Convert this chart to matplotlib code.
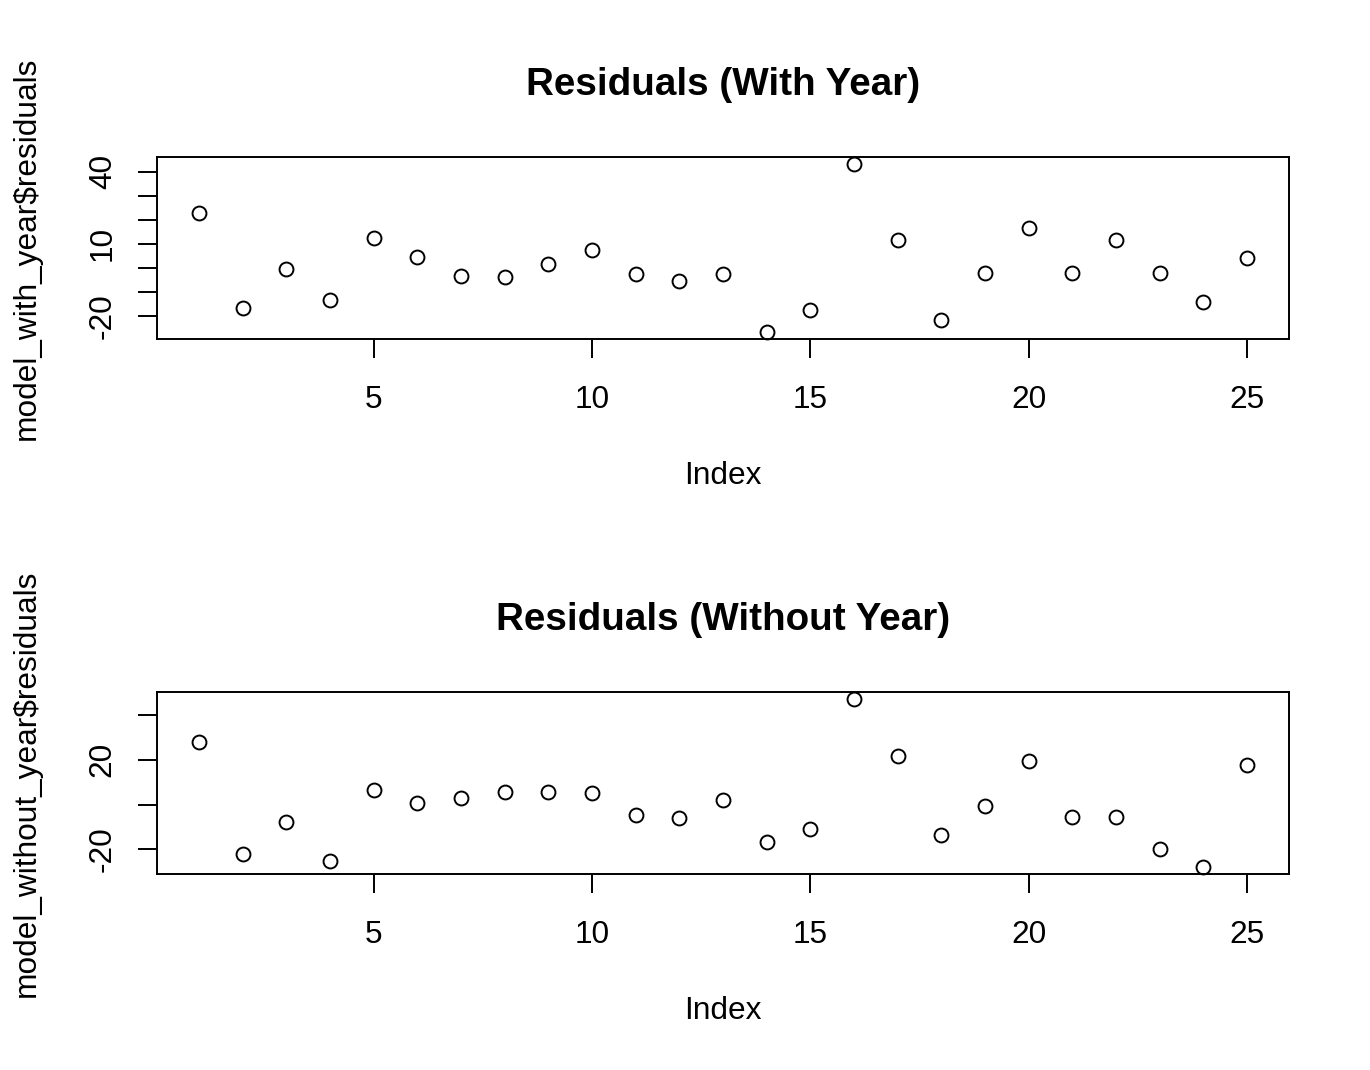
import numpy as np
import matplotlib
matplotlib.use("Agg")
import matplotlib.pyplot as plt

plt.rcParams['font.family'] = ['Liberation Sans', 'DejaVu Sans']

index = list(range(1, 26))
with_year = [23.0, -16.5, -0.5, -13.1, 12.6, 4.6, -3.4, -3.9, 1.8, 7.6, -2.3, -5.2, -2.3,
             -26.6, -17.3, 43.1, 11.5, -21.7, -2.1, 16.6, -2.1, 11.5, -2.1, -14.1, 4.3]
without_year = [28.0, -21.8, -7.9, -25.2, 6.5, 0.7, 2.8, 5.7, 5.7, 5.4, -4.4, -5.9, 2.0,
                -16.6, -10.9, 47.1, 21.8, -13.6, -0.5, 19.4, -5.4, -5.4, -19.6, -27.8, 17.6]

x_ticks = [5, 10, 15, 20, 25]
top_yticks = [-20, -10, 0, 10, 20, 30, 40]
top_ylabels = ['-20', '', '', '10', '', '', '40']
bot_yticks = [-20, 0, 20, 40]
bot_ylabels = ['-20', '', '20', '']

W, H = 1370, 1070
fig = plt.figure(figsize=(W / 100, H / 100), dpi=100)


def r_lim(vals):
    lo, hi = min(vals), max(vals)
    d = (hi - lo) * 0.04
    return lo - d, hi + d


def panel(rect, y, title, ylab, yt, ytl):
    ax = fig.add_axes(rect)
    ax.plot(index, y, linestyle='none', marker='o', markersize=10,
            markerfacecolor='none', markeredgecolor='black', markeredgewidth=1.4,
            clip_on=False)
    ax.set_xlim(r_lim(index))
    ax.set_ylim(r_lim(y))
    ax.set_xticks(x_ticks)
    ax.set_yticks(yt)
    ax.set_yticklabels(ytl, rotation=90, va='center')
    for s in ax.spines.values():
        s.set_linewidth(1.4)
    ax.tick_params(axis='both', direction='out', length=13.7, width=1.4, labelsize=22.8)
    ax.tick_params(axis='x', pad=19.5)
    ax.tick_params(axis='y', pad=14.5)
    ax.set_title(title, fontsize=27.8, fontweight='bold', pad=45)
    ax.set_xlabel('Index', fontsize=22.8, va='center')
    ax.set_ylabel(ylab, fontsize=22.8, va='center')
    hpx = rect[3] * H
    wpx = rect[2] * W
    ax.xaxis.set_label_coords(0.5, -(476 - 339) / hpx)
    ax.yaxis.set_label_coords(-(157 - 27) / wpx, 0.5)
    return ax


left = 157 / W
width = (1289 - 157) / W
panel([left, 1 - 339 / H, width, (339 - 157.3) / H], with_year,
      'Residuals (With Year)', 'model_with_year$residuals', top_yticks, top_ylabels)
panel([left, 1 - 873.7 / H, width, (873.7 - 692.3) / H], without_year,
      'Residuals (Without Year)', 'model_without_year$residuals', bot_yticks, bot_ylabels)

fig.savefig('out.png', dpi=100)
